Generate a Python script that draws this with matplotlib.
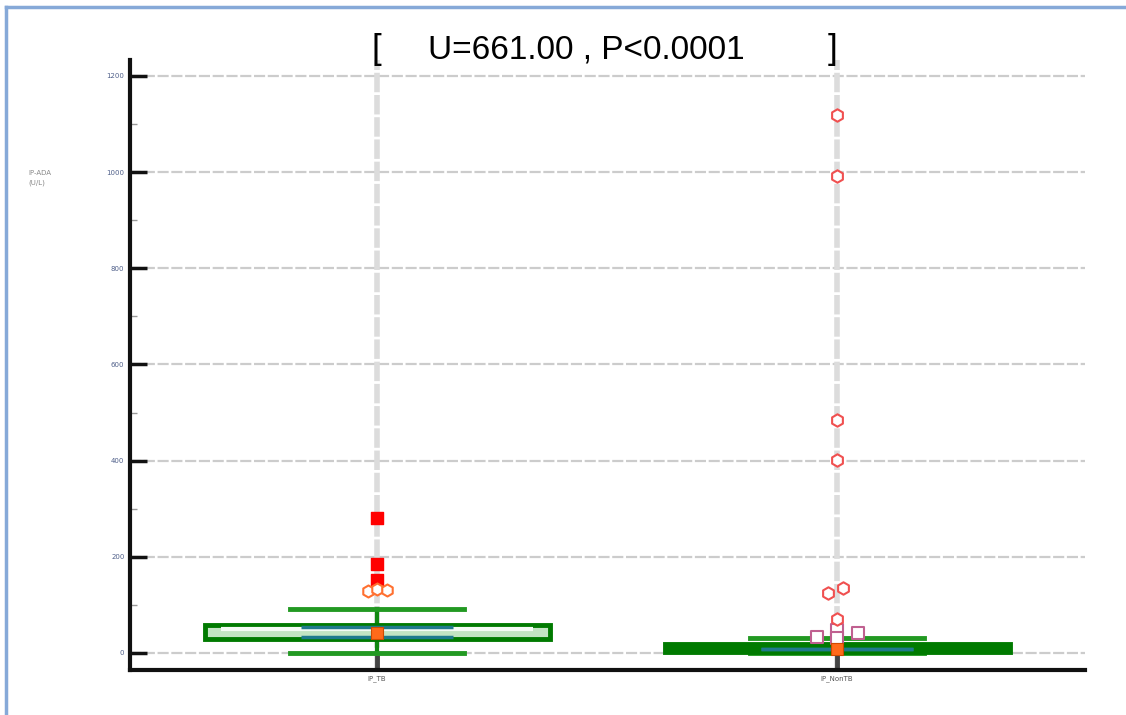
import matplotlib
matplotlib.use("Agg")
import matplotlib.pyplot as plt
from matplotlib.lines import Line2D
from matplotlib.ticker import MultipleLocator

# ---- data ----
categories = ["IP_TB", "IP_NonTB"]
q1 = [30, 3]
q3 = [58, 19]
medians = [42, 8]
whisker_lo = [0, 0]
whisker_hi = [91, 31]
ci_lo = [33, 8]
ci_hi = [54, 8]
# far outliers (filled squares) for IP_TB
tb_far = [281, 185, 152]
# near outliers (open circles)
tb_near = [129, 133, 131]
tb_near_off = [-0.02, 0.0, 0.022]
nontb_circ = [70, 125, 135, 401, 485, 992, 1118]
nontb_circ_off = [0.0, -0.02, 0.013, 0.0, 0.0, 0.0, 0.0]
# open squares for IP_NonTB
nontb_sq = [33, 48, 42, 31]
nontb_sq_off = [-0.044, 0.0, 0.046, 0.0]
yticks = [0, 200, 400, 600, 800, 1000, 1200]
title_txt = "U=661.00 , P<0.0001"

fig = plt.figure(figsize=(11.26, 7.15), dpi=100)
ax = fig.add_axes([130/1126, 1-670/715, (1085-130)/1126, (670-60)/715])

pos = [1, 2]
ax.set_xlim(0.463, 2.539)
ax.set_ylim(-35.4, 1233.2)

# grid
for y in yticks:
    ax.axhline(y, color="#cccccc", lw=1.6, ls=(0, (5, 1.2)), zorder=0)
for x in pos:
    ax.axvline(x, color="#dcdcdc", lw=4, ls=(0, (3.5, 0.5)), zorder=0)

stats = []
for i in range(2):
    stats.append(dict(med=medians[i], q1=q1[i], q3=q3[i],
                      whislo=whisker_lo[i], whishi=whisker_hi[i], fliers=[]))

box_faces = ["#c2e4c2", "#007a00"]
bp = ax.bxp(stats, positions=pos, widths=0.75, patch_artist=True,
            showfliers=False, capwidths=0.38,
            medianprops=dict(linewidth=0),
            whiskerprops=dict(color="#118811", linewidth=3),
            capprops=dict(color="#229922", linewidth=3.5))
for patch, fc in zip(bp["boxes"], box_faces):
    patch.set_facecolor(fc)
    patch.set_edgecolor("#007a00")
    patch.set_linewidth(3.5)
    patch.set_zorder(3)
for w in bp["whiskers"]:
    w.set_zorder(2)
for c in bp["caps"]:
    c.set_zorder(2)

# inner light stripe for TB box
ax.hlines([(q1[0] + q3[0]) / 2 + 6], 1 - 0.34, 1 + 0.34, color="#f4fbf4", lw=3, zorder=4)
# CI / median teal lines
for i, x in enumerate(pos):
    ax.hlines([ci_lo[i], ci_hi[i]], x - 0.165, x + 0.165, color="#1f7a8c", lw=2.5, zorder=5)

# median markers
ax.scatter(pos, medians, marker="s", s=65, color="#ff6a1a", edgecolor="#d04a00", lw=0.8, zorder=7)

# outliers
ax.scatter([1] * len(tb_far), tb_far, marker="s", s=78, color="#ff0000", zorder=6)
ax.scatter([1 + o for o in tb_near_off], tb_near, marker="h", s=75, facecolor="white",
           edgecolor="#ff7030", lw=1.5, zorder=6)
ax.scatter([2 + o for o in nontb_sq_off], nontb_sq, marker="s", s=80, facecolor="white",
           edgecolor="#c06090", lw=1.5, zorder=6)
ax.scatter([2 + o for o in nontb_circ_off], nontb_circ, marker="h", s=80, facecolor="white",
           edgecolor="#f05050", lw=1.5, zorder=6)

# axes styling
for s in ["top", "right"]:
    ax.spines[s].set_visible(False)
for s in ["left", "bottom"]:
    ax.spines[s].set_linewidth(3)
    ax.spines[s].set_color("#111111")
ax.set_yticks(yticks)
ax.set_yticklabels([str(v) for v in yticks], fontsize=5, color="#50608a")
ax.yaxis.set_minor_locator(MultipleLocator(100))
ax.tick_params(axis="y", which="major", direction="in", length=12, width=2.5, color="#111111", pad=4)
ax.tick_params(axis="y", which="minor", direction="in", length=5, width=1, color="#999999")
ax.set_xticks(pos)
ax.set_xticklabels(categories, fontsize=5, color="#555555")
ax.tick_params(axis="x", which="major", direction="in", length=11, width=3.5, color="#444444", pad=4)

# y label
fig.text(28/1126, 1-178/715, "IP-ADA\n(U/L)", fontsize=5, color="#888888",
         ha="left", va="center", linespacing=1.6)

# title pieces
ty = 1 - 50/715
fig.text(376/1126, ty, "[", fontsize=25, family="Liberation Sans", ha="center", va="center")
fig.text(428/1126, ty, title_txt, fontsize=24, family="Liberation Sans", ha="left", va="center")
fig.text(833/1126, ty, "]", fontsize=25, family="Liberation Sans", ha="center", va="center")

# border
bc = "#86a9d8"
fig.add_artist(Line2D([6/1126, 1], [1-7/715, 1-7/715], transform=fig.transFigure, color=bc, lw=2.5))
fig.add_artist(Line2D([6/1126, 6/1126], [0, 1-7/715], transform=fig.transFigure, color=bc, lw=2.5))

fig.savefig("out.png", dpi=100)
